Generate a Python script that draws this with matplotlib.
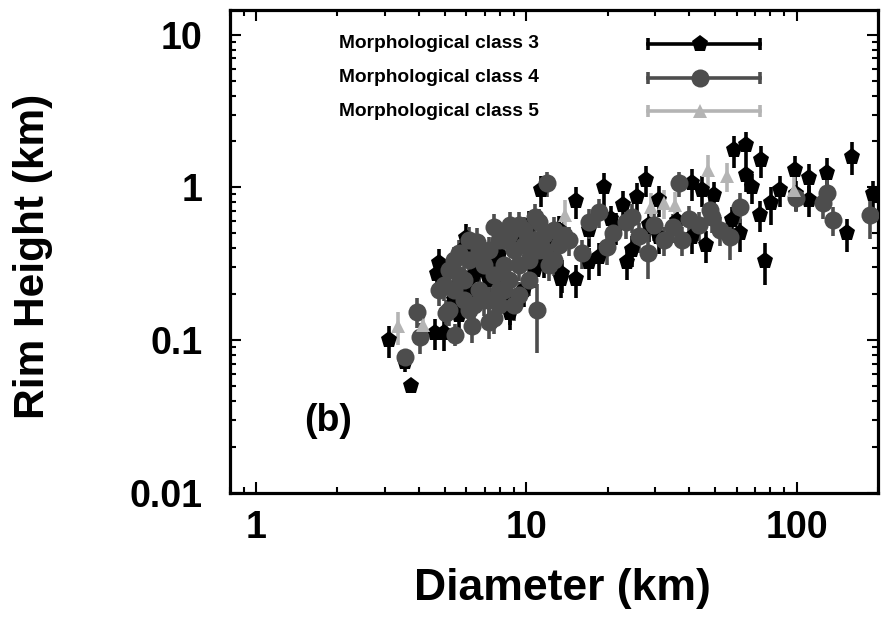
import matplotlib
matplotlib.use("Agg")
import matplotlib.pyplot as plt
from matplotlib.ticker import LogLocator, NullFormatter, FixedLocator, FixedFormatter

# ---------------- data ----------------
# Morphological class 3 (black pentagons)
d3 = [3.09, 3.73, 3.55, 4.59, 4.94, 4.73, 4.65, 5.95, 8.7, 8.7, 10.8, 13.4, 15.2, 11.3, 19.4,
      27.8, 15.2, 22.7, 18.6, 24.6, 25.7, 21.4, 31.0, 41.1, 46.1, 41.1, 58.8, 64.9, 74.0, 64.9,
      68.4, 98.5, 111, 129, 160, 153, 76.1, 80.5, 61.7, 57.8, 99.4, 111, 191, 5.38, 6.12, 6.66,
      7.91, 9.38, 10.2, 7.26, 5.62, 9.8, 12.1, 13.2, 17.0, 11.6, 6.0, 17.0, 44.8, 23.5,
      28.5, 31.0, 49.6, 73.0, 86.7, 5.38, 6.38, 7.58, 8.25, 13.6, 20.5, 36.0]
h3 = [0.100, 0.050, 0.072, 0.112, 0.112, 0.32, 0.27, 0.40, 0.151, 0.18, 0.29, 0.25, 0.25, 0.96, 1.0,
      1.12, 0.81, 0.77, 0.35, 0.39, 0.87, 0.55, 0.475, 1.07, 0.42, 0.475, 1.76, 1.90, 1.52, 1.21,
      1.00, 1.31, 1.16, 1.25, 1.59, 0.50, 0.33, 0.79, 0.50, 0.61, 0.90, 0.83, 0.90, 0.184, 0.214, 0.289,
      0.363, 0.454, 0.57, 0.249, 0.146, 0.214, 0.42, 0.528, 0.528, 0.336, 0.47, 0.325, 0.966, 0.325,
      0.57, 0.83, 0.89, 0.66, 0.966, 0.31, 0.268, 0.336, 0.23, 0.27, 0.62, 0.60]
e3 = [0.024, 0.005, 0.010, 0.026, 0.027, 0.075, 0.065, 0.095, 0.035, 0.055, 0.07, 0.06, 0.06, 0.22, 0.24,
      0.26, 0.19, 0.18, 0.085, 0.09, 0.20, 0.13, 0.11, 0.25, 0.10, 0.11, 0.42, 0.42, 0.36, 0.28,
      0.22, 0.30, 0.26, 0.30, 0.38, 0.12, 0.10, 0.22, 0.12, 0.14, 0.20, 0.19, 0.21, 0.044, 0.05, 0.068,
      0.085, 0.10, 0.13, 0.06, 0.035, 0.05, 0.10, 0.12, 0.12, 0.08, 0.11, 0.078, 0.22, 0.078,
      0.13, 0.19, 0.20, 0.15, 0.22, 0.07, 0.062, 0.08, 0.055, 0.065, 0.14, 0.14]

# Morphological class 4 (dark grey circles)
d4 = [3.56, 3.93, 4.05, 5.02, 5.46, 6.30, 7.26, 7.60, 10.9, 5.38, 5.62, 6.55, 7.58, 8.70, 11.1, 11.9,
      10.8, 5.16, 5.87, 6.12, 6.66, 6.95, 7.58, 7.91, 8.25, 8.61, 8.99, 9.38, 9.79, 10.2, 10.6, 11.1,
      11.6, 12.6, 13.2, 13.8, 6.38, 7.91, 9.38, 5.87, 4.94, 7.26, 8.25, 6.95, 5.62, 10.2, 12.1, 5.38,
      8.99, 16.1, 19.9, 28.1, 18.6, 23.3, 36.6, 34.8, 37.8, 24.6, 14.4, 17.0, 47.6, 51.9, 56.5, 61.6,
      48.8, 99.4, 129, 125, 136, 187, 29.6, 32.3, 43.7,
      4.73, 5.16, 6.12, 6.66, 7.91, 8.61, 9.79, 11.6, 12.6, 6.12, 9.38, 7.26, 8.25, 21.0, 26.0, 40.0]
h4 = [0.078, 0.154, 0.105, 0.151, 0.109, 0.123, 0.132, 0.140, 0.158, 0.214, 0.373, 0.44, 0.553, 0.57, 0.59, 1.07,
      0.64, 0.289, 0.249, 0.336, 0.214, 0.184, 0.268, 0.214, 0.312, 0.249, 0.391, 0.312, 0.42, 0.336, 0.454, 0.391,
      0.49, 0.528, 0.42, 0.49, 0.171, 0.171, 0.198, 0.184, 0.23, 0.391, 0.454, 0.312, 0.268, 0.249, 0.312, 0.336,
      0.171, 0.373, 0.41, 0.373, 0.69, 0.59, 1.07, 0.553, 0.454, 0.64, 0.454, 0.59, 0.714, 0.528, 0.475, 0.75,
      0.64, 0.855, 0.92, 0.79, 0.614, 0.66, 0.57, 0.454, 0.57,
      0.214, 0.158, 0.158, 0.391, 0.454, 0.49, 0.528, 0.391, 0.336, 0.454, 0.57, 0.184, 0.214, 0.50, 0.48, 0.62]
e4 = [0.010, 0.034, 0.024, 0.033, 0.018, 0.027, 0.030, 0.030, 0.075, 0.047, 0.08, 0.10, 0.12, 0.125, 0.13, 0.20,
      0.14, 0.064, 0.055, 0.074, 0.047, 0.04, 0.059, 0.047, 0.069, 0.055, 0.086, 0.069, 0.092, 0.074, 0.10, 0.086,
      0.108, 0.116, 0.092, 0.108, 0.038, 0.038, 0.044, 0.04, 0.05, 0.086, 0.10, 0.069, 0.059, 0.055, 0.069, 0.074,
      0.038, 0.082, 0.10, 0.12, 0.15, 0.13, 0.20, 0.12, 0.10, 0.14, 0.10, 0.13, 0.157, 0.116, 0.14, 0.165,
      0.14, 0.16, 0.20, 0.17, 0.135, 0.20, 0.125, 0.10, 0.125,
      0.047, 0.035, 0.035, 0.086, 0.10, 0.108, 0.116, 0.086, 0.074, 0.10, 0.125, 0.04, 0.047, 0.11, 0.105, 0.136]

# Morphological class 5 (light grey triangles)
d5 = [3.36, 4.16, 13.9, 28.9, 32.3, 35.6, 46.8, 55.3, 97.6]
h5 = [0.123, 0.126, 0.663, 0.74, 0.79, 0.77, 1.31, 1.19, 0.966]
e5 = [0.030, 0.030, 0.16, 0.18, 0.17, 0.17, 0.31, 0.26, 0.20]

labels = ["Morphological class 3", "Morphological class 4", "Morphological class 5"]
x_ticks = [1, 10, 100]
x_ticklabels = ["1", "10", "100"]
y_ticks = [0.01, 0.1, 1, 10]
y_ticklabels = ["0.01", "0.1", "1", "10"]

# ---------------- style ----------------
FONT = "Liberation Sans"
plt.rcParams["font.family"] = [FONT, "DejaVu Sans"]
plt.rcParams["font.weight"] = "bold"

colors = ["#000000", "#4d4d4d", "#b4b4b4"]
markers = ["p", "o", "^"]
msizes = [12.5, 13, 10.5]

fig = plt.figure(figsize=(8.81, 6.30), dpi=100)
ax = fig.add_axes([0.261, 0.2175, 0.7356, 0.7665])

series = [(d3, h3, e3), (d4, h4, e4), (d5, h5, e5)]
for (d, h, e), c, m, ms in zip(series, colors, markers, msizes):
    ax.errorbar(d, h, yerr=e, fmt=m, color=c, ms=ms, mew=0, ecolor=c,
                elinewidth=2.6, capsize=5.5, capthick=2.6, linestyle="none", zorder=3)

ax.set_xscale("log")
ax.set_yscale("log")
ax.set_xlim(0.8, 200)
ax.set_ylim(0.01, 14.5)

ax.xaxis.set_major_locator(FixedLocator(x_ticks))
ax.xaxis.set_major_formatter(FixedFormatter(x_ticklabels))
ax.yaxis.set_major_locator(FixedLocator(y_ticks))
ax.yaxis.set_major_formatter(FixedFormatter(y_ticklabels))
ax.xaxis.set_minor_locator(LogLocator(base=10, subs=range(2, 10), numticks=20))
ax.yaxis.set_minor_locator(LogLocator(base=10, subs=range(2, 10), numticks=20))
ax.xaxis.set_minor_formatter(NullFormatter())
ax.yaxis.set_minor_formatter(NullFormatter())

ax.tick_params(which="both", direction="in", top=True, right=True, width=1.5)
ax.tick_params(which="major", length=8, labelsize=27)
ax.tick_params(axis="y", which="major", pad=20)
ax.tick_params(axis="x", which="major", pad=12)
ax.tick_params(which="minor", length=4)
for lab in ax.get_xticklabels() + ax.get_yticklabels():
    lab.set_fontweight("bold")
for s in ax.spines.values():
    s.set_linewidth(2.3)

ax.set_xlabel("Diameter (km)", fontsize=32, fontweight="bold")
ax.set_ylabel("Rim Height (km)", fontsize=30.5, fontweight="bold")
ax.xaxis.set_label_coords(0.513, -0.155)
ax.yaxis.set_label_coords(-0.273, 0.49)

ax.text(0.115, 0.15, "(b)", transform=ax.transAxes, fontsize=27, fontweight="bold",
        ha="left", va="center")

# ---------------- legend (gnuplot style) ----------------
leg_y = [0.93, 0.86, 0.79]
x_text = 0.477
x0, x1, xm = 0.645, 0.818, 0.725
for y, c, m, ms, lab in zip(leg_y, colors, markers, msizes, labels):
    ax.plot([x0, x1], [y, y], transform=ax.transAxes, color=c, lw=2.6, zorder=5, clip_on=False)
    ax.plot([x0, x1], [y, y], transform=ax.transAxes, color=c, lw=0, marker="|",
            ms=9, mew=2.6, zorder=5, clip_on=False)
    ax.plot([xm], [y], transform=ax.transAxes, color=c, marker=m, ms=ms, mew=0,
            zorder=6, clip_on=False)
    ax.text(x_text, y, lab, transform=ax.transAxes, fontsize=13.8, fontweight="bold",
            ha="right", va="center")

fig.savefig("out.png", dpi=100)
